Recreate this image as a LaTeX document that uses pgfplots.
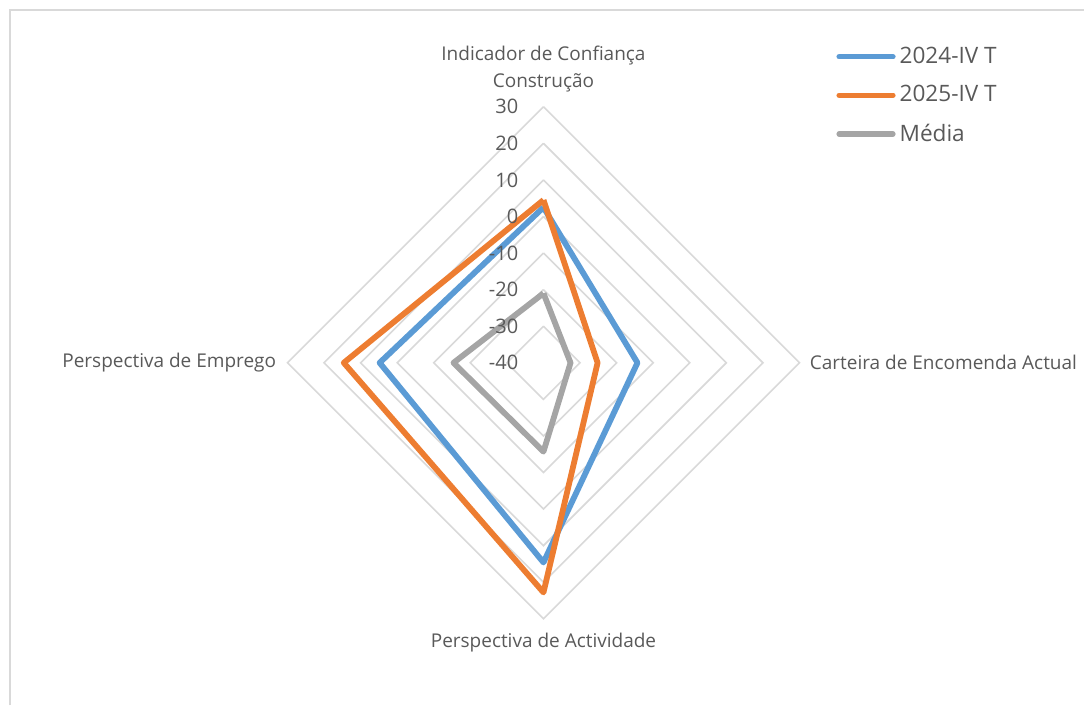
\documentclass[border=0pt]{standalone}
\usepackage{fontspec}
\setmainfont{Open Sans}
\usepackage{pgfplots}
\usepackage{pgfplotstable}
\pgfplotsset{compat=1.18}

\definecolor{cblue}{HTML}{5B9BD5}
\definecolor{corange}{HTML}{ED7D31}
\definecolor{cgray}{HTML}{A5A5A5}
\definecolor{ctext}{HTML}{595959}
\definecolor{cgrid}{HTML}{D9D9D9}

% one row per spoke (clockwise from the top), first row repeated to close the shape
\pgfplotstableread{
dx dy a     b     m
0  1  2.5   4.5   -21
1  0  -14.3 -25.2 -32.6
0  -1 14.6  22.8  -15.7
-1 0  4.8   14.6  -15.4
0  1  2.5   4.5   -21
}\radar

\begin{document}
\begin{tikzpicture}
\begin{axis}[
    x=1.83pt, y=1.83pt,
    xmin=-148.6, xmax=147.8, ymin=-93.7, ymax=99.2,
    hide axis, clip=false,
    legend style={at={(axis cs:80,87.5)}, anchor=north west, draw=none, fill=none,
        font=\fontsize{11.3}{13}\selectfont\color{ctext}, row sep=5.5pt,
        inner sep=0pt},
    legend cell align=left,
    legend image code/.code={\draw[#1, line width=2.6pt, line cap=round] (0pt,0pt) -- (27pt,0pt);},
]
\path (rel axis cs:0,0) rectangle (rel axis cs:1,1);
% frame of the chart area
\draw[cgrid, line width=1pt] (axis cs:-145.9,-93.7) -- (axis cs:-145.9,96.4) -- (axis cs:147.8,96.4);

% diamond rings: -30 ... 30 (radius = value + 40)
\pgfplotsinvokeforeach{10,20,...,70}{
  \addplot[cgrid, line width=0.8pt, forget plot] coordinates {(0,#1) (#1,0) (0,-#1) (-#1,0) (0,#1)};
}

\addplot[cblue, line width=2.9pt, line join=round]
  table[x expr=\thisrow{dx}*(\thisrow{a}+40), y expr=\thisrow{dy}*(\thisrow{a}+40)] {\radar};
\addlegendentry{2024-IV T}
\addplot[corange, line width=2.9pt, line join=round]
  table[x expr=\thisrow{dx}*(\thisrow{b}+40), y expr=\thisrow{dy}*(\thisrow{b}+40)] {\radar};
\addlegendentry{2025-IV T}
\addplot[cgray, line width=2.9pt, line join=round]
  table[x expr=\thisrow{dx}*(\thisrow{m}+40), y expr=\thisrow{dy}*(\thisrow{m}+40)] {\radar};
\addlegendentry{Média}

% radial scale labels
\pgfplotsinvokeforeach{-40,-30,...,30}{
  \node[anchor=east, inner sep=0pt, text=ctext, font=\fontsize{10}{12}\selectfont] at (axis cs:-6.8,#1+40) {#1};
}

% category labels
\node[anchor=south, align=center, inner sep=0pt, yshift=7pt, text=ctext,
      font=\fontsize{9.5}{13.5}\selectfont] at (axis cs:0,70) {Indicador de Confiança\\Construção};
\node[anchor=west, inner sep=0pt, xshift=5pt, text=ctext,
      font=\fontsize{9.5}{12}\selectfont] at (axis cs:70,0) {Carteira de Encomenda Actual};
\node[anchor=north, inner sep=0pt, yshift=-7pt, text=ctext,
      font=\fontsize{9.5}{12}\selectfont] at (axis cs:0,-70) {Perspectiva de Actividade};
\node[anchor=east, inner sep=0pt, xshift=-5.5pt, text=ctext,
      font=\fontsize{9.5}{12}\selectfont] at (axis cs:-70,0) {Perspectiva de Emprego};
\end{axis}
\end{tikzpicture}
\end{document}
